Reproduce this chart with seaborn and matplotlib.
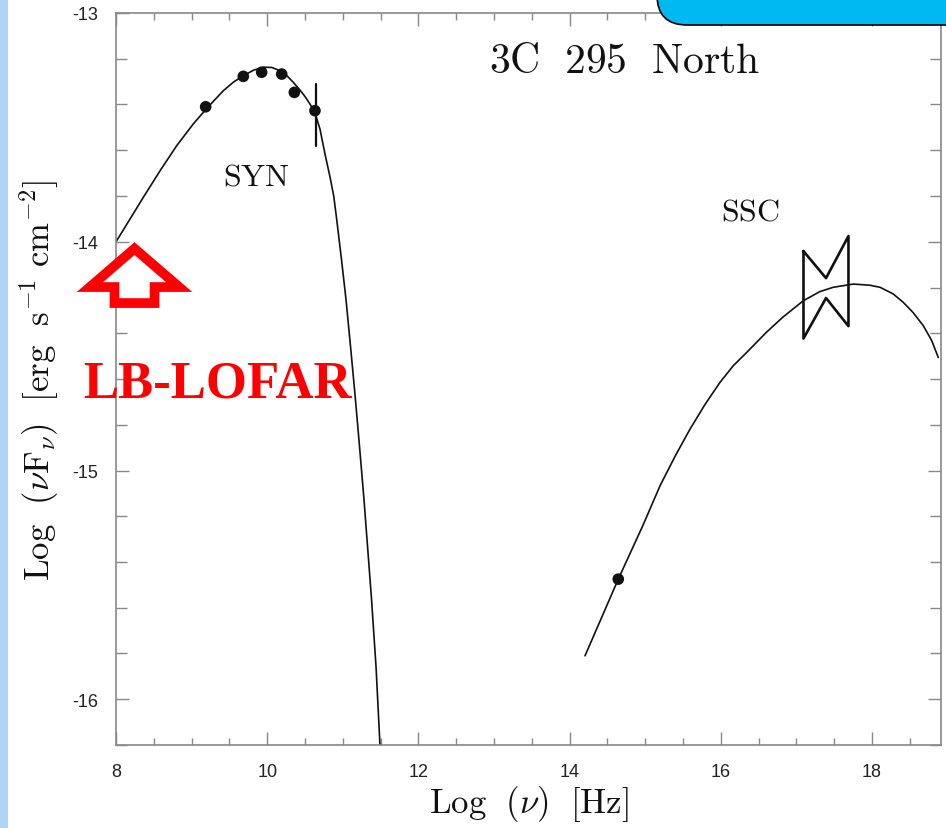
import seaborn as sns
import matplotlib.pyplot as plt
from matplotlib.patches import FancyArrow, FancyBboxPatch, Rectangle

# synchrotron model curve
syn_x = [8.000, 8.185, 8.361, 8.582, 8.803, 9.022, 9.200, 9.419, 9.550, 9.684,
         9.820, 9.948, 10.060, 10.169, 10.260, 10.345, 10.434, 10.500, 10.566,
         10.632, 10.698, 10.765, 10.831, 10.880, 10.919, 10.980, 11.042, 11.100,
         11.161, 11.220, 11.280, 11.380, 11.440, 11.492]
syn_y = [-14.000, -13.901, -13.806, -13.690, -13.580, -13.485, -13.417, -13.340,
         -13.303, -13.274, -13.250, -13.237, -13.238, -13.252, -13.274, -13.303,
         -13.337, -13.365, -13.398, -13.437, -13.507, -13.617, -13.717, -13.800,
         -13.901, -14.070, -14.251, -14.450, -14.666, -14.890, -15.125, -15.562,
         -15.860, -16.201]

# SSC model curve
ssc_x = [14.204, 14.644, 14.970, 15.196, 15.400, 15.593, 15.790, 15.989, 16.165,
         16.342, 16.606, 16.820, 17.091, 17.310, 17.488, 17.753, 17.970, 18.106,
         18.280, 18.414, 18.545, 18.679, 18.790, 18.877]
ssc_y = [-15.810, -15.475, -15.240, -15.067, -14.935, -14.819, -14.712, -14.615,
         -14.542, -14.484, -14.395, -14.330, -14.258, -14.218, -14.199, -14.185,
         -14.190, -14.199, -14.228, -14.265, -14.310, -14.367, -14.432, -14.506]

# measured points
radio_x = [9.186, 9.684, 9.927, 10.192, 10.359, 10.632]
radio_y = [-13.410, -13.277, -13.259, -13.267, -13.347, -13.427]
opt_x = [14.644]
opt_y = [-15.475]

# error bar on the last radio point
err_x = [10.640, 10.640]
err_y = [-13.310, -13.580]

# X-ray bow tie
bow_x = [17.094, 17.392, 17.689, 17.689, 17.392, 17.094, 17.094]
bow_y = [-14.041, -14.159, -13.975, -14.369, -14.246, -14.423, -14.041]

x_ticks = [8, 10, 12, 14, 16, 18]
y_ticks = [-16, -15, -14, -13]

sns.set_theme(style='ticks')
plt.rcParams['mathtext.fontset'] = 'cm'
plt.rcParams['axes.unicode_minus'] = False
plt.rcParams['font.family'] = ['Liberation Sans', 'DejaVu Sans']

fig = plt.figure(figsize=(9.46, 8.29), dpi=100)
fig.patch.set_facecolor('white')
ax = fig.add_axes([116 / 946, 83 / 829, 825 / 946, 732 / 829])

ink = '#111111'
sns.lineplot(x=syn_x, y=syn_y, ax=ax, sort=False, estimator=None, color=ink, lw=1.2)
sns.lineplot(x=ssc_x, y=ssc_y, ax=ax, sort=False, estimator=None, color=ink, lw=1.2)
sns.lineplot(x=bow_x, y=bow_y, ax=ax, sort=False, estimator=None, color=ink, lw=1.9)
ax.plot(err_x, err_y, color=ink, lw=1.6)
sns.scatterplot(x=radio_x + opt_x, y=radio_y + opt_y, ax=ax, color=ink, s=70,
                edgecolor='none', zorder=5)

ax.set_xlim(8, 18.913)
ax.set_ylim(-16.2, -13)
ax.set_xticks(x_ticks)
ax.set_yticks(y_ticks)
ax.set_xticks([8 + 0.5 * i for i in range(22)], minor=True)
ax.set_yticks([-16.2 + 0.2 * i for i in range(17)], minor=True)
ax.tick_params(which='both', direction='in', top=True, right=True,
               color='#888888', width=1.0)
ax.tick_params(which='major', length=9.5)
ax.tick_params(axis='x', which='minor', length=5)
ax.tick_params(axis='y', which='minor', length=8)
ax.tick_params(axis='x', which='major', pad=13, labelsize=13, labelcolor='#222222')
ax.tick_params(axis='y', which='major', pad=13, labelsize=13, labelcolor='#222222')
for sp in ax.spines.values():
    sp.set_color('#888888')
    sp.set_linewidth(1.2)

ax.set_xlabel(r'$\mathrm{Log}\ \ (\nu)\ \ [\mathrm{Hz}]$', fontsize=25, color=ink, labelpad=2)
ax.set_ylabel(r'$\mathrm{Log}\ \ (\nu\mathrm{F}_{\nu})\ \ [\mathrm{erg\ \ s}^{-1}\ \mathrm{cm}^{-2}]$',
              fontsize=25, color=ink, labelpad=8)

ax.text(14.733, -13.258, r'$\mathrm{3C\ \ 295\ \ North}$', fontsize=30,
        ha='center', va='baseline', color=ink)
ax.text(9.85, -13.748, r'$\mathrm{SYN}$', fontsize=23, ha='center', va='baseline', color=ink)
ax.text(16.386, -13.901, r'$\mathrm{SSC}$', fontsize=23, ha='center', va='baseline', color=ink)

# red LB-LOFAR marker
arrow = FancyArrow(8.245, -14.268, 0, 0.238, width=0.53, head_width=1.18,
                   head_length=0.168, length_includes_head=True,
                   facecolor='white', edgecolor='red', lw=7, joinstyle='miter',
                   clip_on=False, zorder=6)
ax.add_patch(arrow)
ax.text(9.343, -14.675, 'LB-LOFAR', fontsize=38, fontweight='bold',
        family='Liberation Serif', color='red', ha='center', va='baseline',
        clip_on=False, zorder=6)

# slide decorations
fig.patches.append(Rectangle((0, 0), 8 / 946, 1, transform=fig.transFigure,
                             facecolor='#b3d3f4', edgecolor='none', zorder=10))
fig.patches.append(FancyBboxPatch((657, 803), 400, 100, transform=None,
                                  boxstyle='round,pad=0,rounding_size=30',
                                  facecolor='#00b9f2', edgecolor='black', lw=1.2,
                                  zorder=10))

fig.savefig('out.png', dpi=100)
